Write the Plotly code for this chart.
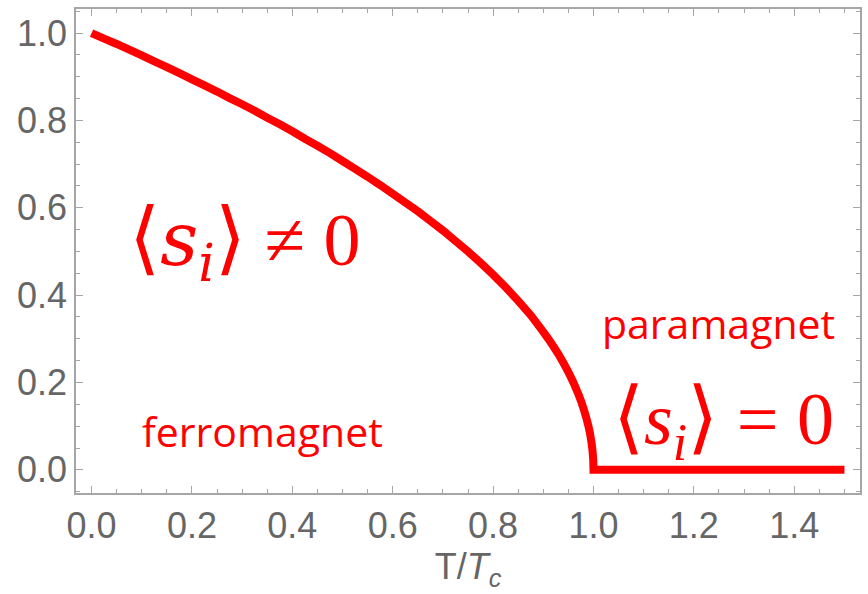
import plotly.graph_objects as go

# Order parameter <s_i> versus reduced temperature T/Tc
t_values = [0.0, 0.025, 0.05, 0.075, 0.1, 0.125, 0.15, 0.175, 0.2, 0.225, 0.25,
            0.275, 0.3, 0.325, 0.35, 0.375, 0.4, 0.425, 0.45, 0.475, 0.5, 0.525,
            0.55, 0.575, 0.6, 0.625, 0.65, 0.675, 0.7, 0.725, 0.75, 0.775, 0.8,
            0.825, 0.85, 0.875, 0.9, 0.91, 0.92, 0.93, 0.94, 0.95, 0.96, 0.97,
            0.975, 0.98, 0.985, 0.99, 0.993, 0.996, 0.998, 0.9995, 1.0, 1.5]
s_values = [1.0, 0.987, 0.975, 0.962, 0.949, 0.935, 0.922, 0.908, 0.894, 0.880,
            0.866, 0.851, 0.837, 0.822, 0.806, 0.791, 0.775, 0.758, 0.742, 0.725,
            0.707, 0.689, 0.671, 0.652, 0.632, 0.612, 0.592, 0.570, 0.548, 0.524,
            0.500, 0.474, 0.447, 0.418, 0.387, 0.354, 0.316, 0.300, 0.283, 0.265,
            0.245, 0.224, 0.200, 0.173, 0.158, 0.141, 0.122, 0.100, 0.084, 0.063,
            0.045, 0.022, 0.0, 0.0]

x_ticks = [0.0, 0.2, 0.4, 0.6, 0.8, 1.0, 1.2, 1.4]
y_ticks = [0.0, 0.2, 0.4, 0.6, 0.8, 1.0]

RED = "#ff0000"
FRAME = "#a6a6a6"
LABEL = "#666666"

fig = go.Figure()
fig.add_trace(go.Scatter(
    x=t_values, y=s_values, mode="lines",
    line=dict(color=RED, width=8, simplify=False),
    hoverinfo="skip", showlegend=False,
))

serif = "Liberation Serif, DejaVu Serif, serif"
sans = "Open Sans, Noto Sans, sans-serif"

def bracket_expr(rel, s_glyph, i_glyph):
    big = '<span style="font-size:80px">'
    return (f'{big}⟨</span>{s_glyph}<sub>{i_glyph}</sub>{big}⟩</span>'
            f' {rel} 0')

annotations = [
    dict(x=0.305, y=0.52, text=bracket_expr("≠", "𝑠", "𝑖"),
         font=dict(family=serif, size=74, color=RED)),
    dict(x=1.259, y=0.11, text=bracket_expr("=", "<i>s</i>", "<i>i</i>"),
         font=dict(family="Liberation Serif", size=74, color=RED)),
    dict(x=1.249, y=0.336, text="paramagnet",
         font=dict(family=sans, size=41, color=RED)),
    dict(x=0.34, y=0.088, text="ferromagnet",
         font=dict(family=sans, size=41, color=RED)),
]
for a in annotations:
    a.update(xref="x", yref="y", showarrow=False, xanchor="center", yanchor="middle")

axis_common = dict(
    showline=True, linecolor=FRAME, linewidth=1.5, mirror="allticks",
    ticks="inside", ticklen=7, tickwidth=1, tickcolor=FRAME,
    showgrid=False, zeroline=False,
    tickfont=dict(family="Liberation Sans, Arial, sans-serif", size=36, color=LABEL),
)

fig.update_layout(
    width=868, height=594,
    margin=dict(l=76, r=6, t=9, b=101),
    paper_bgcolor="white", plot_bgcolor="white",
    annotations=annotations,
    xaxis=dict(
        range=[-0.031, 1.531], tickvals=x_ticks,
        ticktext=[f"{v:.1f}" for v in x_ticks],
        minor=dict(dtick=0.05, tick0=0, ticks="inside", ticklen=4,
                   tickcolor=FRAME, tickwidth=1, showgrid=False),
        title=dict(text="T/<i>T</i><sub><i>c</i></sub>", standoff=9,
                   font=dict(family="Liberation Sans, Arial, sans-serif",
                             size=36, color=LABEL)),
        **axis_common,
    ),
    yaxis=dict(
        range=[-0.053, 1.055], tickvals=y_ticks,
        ticktext=[f"{v:.1f}" for v in y_ticks],
        minor=dict(dtick=0.05, tick0=0, ticks="inside", ticklen=4,
                   tickcolor=FRAME, tickwidth=1, showgrid=False),
        **axis_common,
    ),
)

fig.write_html("out.html")
